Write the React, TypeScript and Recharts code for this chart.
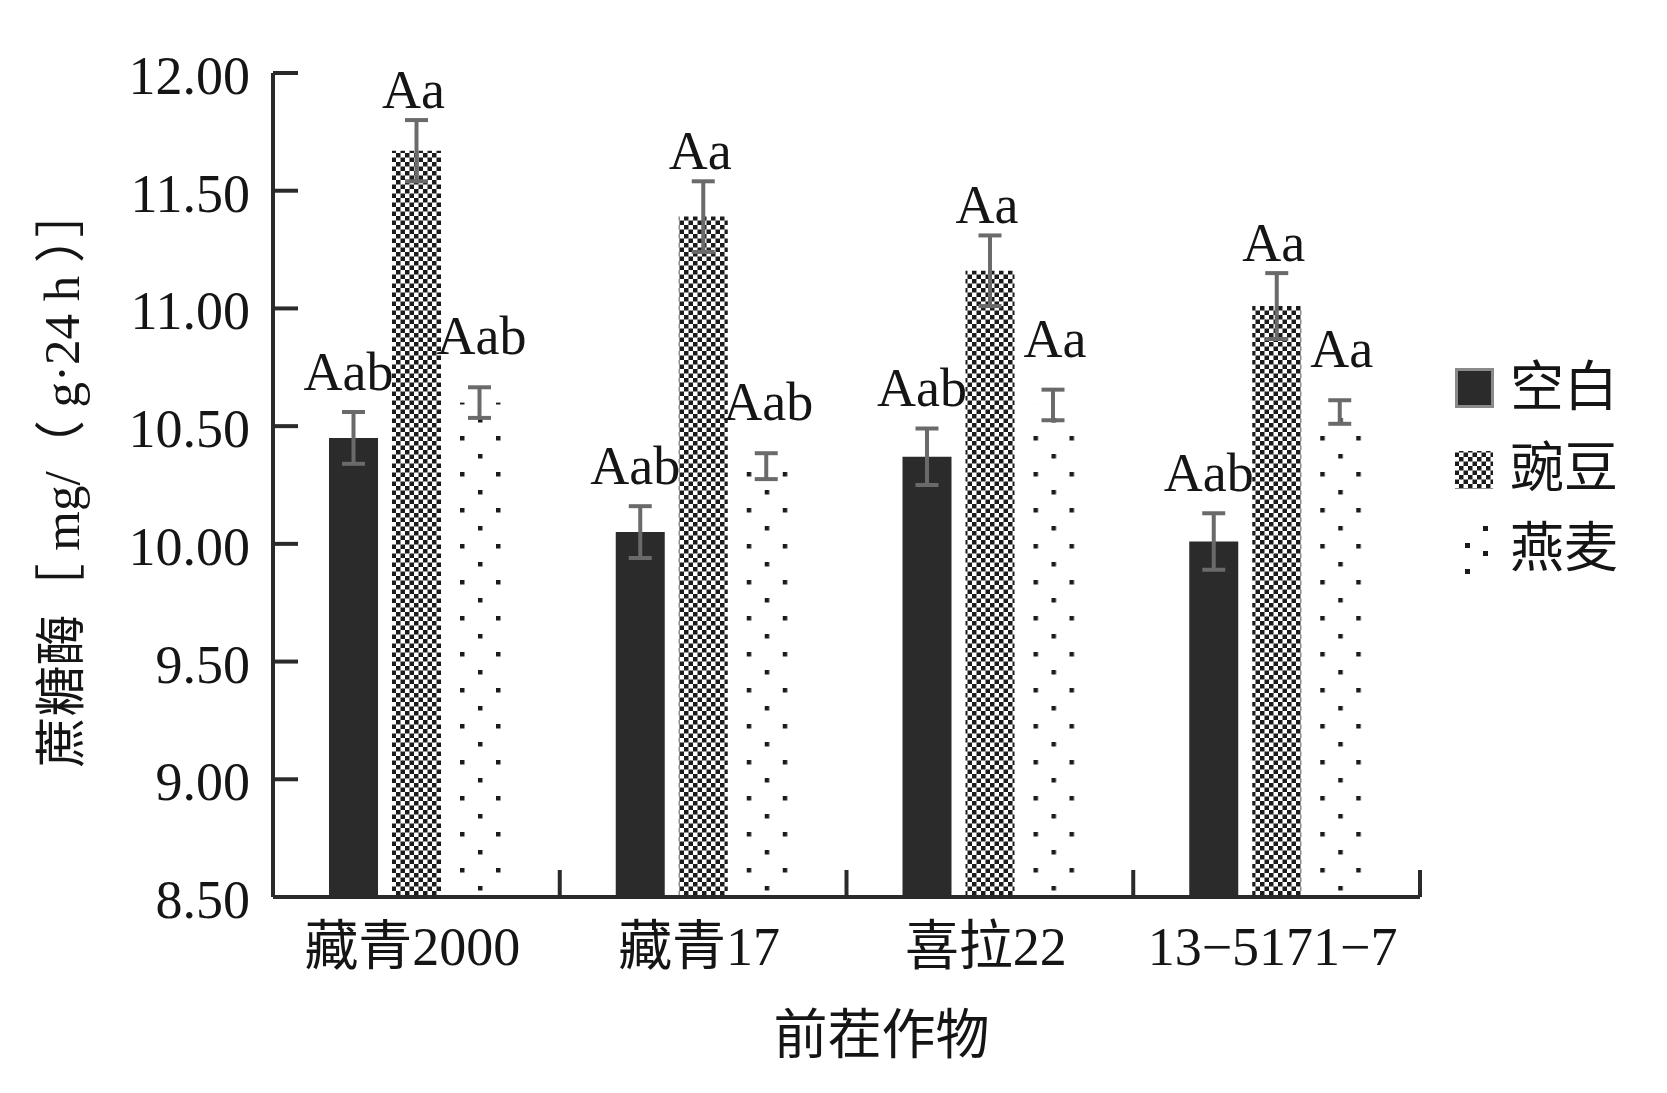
import React from 'react';
import { BarChart, Bar, XAxis, YAxis, ErrorBar, LabelList, Legend } from 'recharts';

// ---------- data ----------
const categories = ['藏青2000', '藏青17', '喜拉22', '13−5171−7'];
const seriesKeys = ['blank', 'pea', 'oat'];
const seriesNames = ['空白', '豌豆', '燕麦'];

const blankValues = [10.45, 10.05, 10.37, 10.01];
const blankErrors = [0.11, 0.11, 0.12, 0.12];
const blankLetters = ['Aab', 'Aab', 'Aab', 'Aab'];

const peaValues = [11.67, 11.39, 11.16, 11.01];
const peaErrors = [0.13, 0.15, 0.15, 0.14];
const peaLetters = ['Aa', 'Aa', 'Aa', 'Aa'];

const oatValues = [10.6, 10.33, 10.59, 10.56];
const oatErrors = [0.065, 0.055, 0.065, 0.05];
const oatLetters = ['Aab', 'Aab', 'Aa', 'Aa'];

const yTicks = [8.5, 9.0, 9.5, 10.0, 10.5, 11.0, 11.5, 12.0];
const Y_MIN = 8.5;
const Y_MAX = 12;

const yTitle = '蔗糖酶［ mg/（ g·24 h ）］';
const xTitle = '前茬作物';

const data = categories.map((name, i) => ({
  name,
  blank: blankValues[i],
  blankErr: blankErrors[i],
  blankSig: blankLetters[i],
  pea: peaValues[i],
  peaErr: peaErrors[i],
  peaSig: peaLetters[i],
  oat: oatValues[i],
  oatErr: oatErrors[i],
  oatSig: oatLetters[i],
}));

const valueArrays: Record<string, number[]> = { blank: blankValues, pea: peaValues, oat: oatValues };
const errorArrays: Record<string, number[]> = { blank: blankErrors, pea: peaErrors, oat: oatErrors };

// ---------- layout / style ----------
const W = 1667;
const H = 1093;
const PLOT_LEFT = 273;
const PLOT_TOP = 73;
const PLOT_RIGHT = 1420;
const PLOT_BOTTOM = 897;
const PLOT_W = PLOT_RIGHT - PLOT_LEFT;
const PLOT_H = PLOT_BOTTOM - PLOT_TOP;
const X_AXIS_H = 100;

const SERIF = "'Liberation Serif', 'Noto Sans CJK SC', serif";
const AXIS = '#2a2a2a';
const TEXT = '#151515';
const ERR = '#6a6a6a';
const DARK = '#2b2b2b';

const YTick = (props: any) => {
  const { x, y, payload } = props;
  return (
    <g>
      <line x1={x} x2={x + 25} y1={y} y2={y} stroke={AXIS} strokeWidth={4} />
      <text x={x - 23} y={y + 21} textAnchor="end" fontSize={54} fontFamily={SERIF} fill={TEXT}>
        {Number(payload.value).toFixed(2)}
      </text>
    </g>
  );
};

const XTick = (props: any) => {
  const { x, y, payload } = props;
  const band = PLOT_W / categories.length;
  return (
    <g>
      <line x1={x + band / 2} x2={x + band / 2} y1={y} y2={y - 27} stroke={AXIS} strokeWidth={4} />
      <text x={x - 4} y={y + 68} textAnchor="middle" fontSize={54} fontFamily={SERIF} fill={TEXT}>
        {payload.value}
      </text>
    </g>
  );
};

const YTitle = (props: any) => {
  const vb = props.viewBox || {};
  const cx = 62;
  const cy = (vb.y ?? PLOT_TOP) + (vb.height ?? PLOT_H) / 2 - 8;
  return (
    <text
      x={cx}
      y={cy}
      transform={`rotate(-90, ${cx}, ${cy})`}
      textAnchor="middle"
      dominantBaseline="central"
      fontSize={51}
      fontFamily={SERIF}
      fill={TEXT}
    >
      {yTitle}
    </text>
  );
};

const XTitle = (props: any) => {
  const vb = props.viewBox || {};
  const cx = (vb.x ?? PLOT_LEFT) + (vb.width ?? PLOT_W) / 2 + 35;
  const cy = PLOT_BOTTOM + 139;
  return (
    <text x={cx} y={cy} textAnchor="middle" dominantBaseline="central" fontSize={54} fontFamily={SERIF} fill={TEXT}>
      {xTitle}
    </text>
  );
};

const makeSigLabel = (key: string, gap: number, dx: number) => (props: any) => {
  const vb = props.viewBox || props;
  const { x, y, width, height } = vb;
  const index = props.index ?? 0;
  const v = valueArrays[key][index];
  const e = errorArrays[key][index];
  const pxPerUnit = v > Y_MIN && height > 0 ? height / (v - Y_MIN) : PLOT_H / (Y_MAX - Y_MIN);
  const errTop = y - e * pxPerUnit;
  return (
    <text
      x={x + width / 2 + dx}
      y={errTop - gap}
      textAnchor="middle"
      fontSize={54}
      fontFamily={SERIF}
      fill={TEXT}
    >
      {props.value}
    </text>
  );
};

const OatShape = (props: any) => {
  const { x, y, width, height, index } = props;
  if (!(height > 0)) return null;
  const id = `oat-dots-${index}`;
  const bottom = y + height;
  return (
    <g>
      <defs>
        <pattern id={id} patternUnits="userSpaceOnUse" x={x} y={bottom} width={36} height={36}>
          <rect x={5} y={7} width={4.5} height={4.5} fill="#1b1b1b" />
          <rect x={23} y={25} width={4.5} height={4.5} fill="#1b1b1b" />
        </pattern>
      </defs>
      <rect x={x} y={y} width={width} height={height} fill={`url(#${id})`} />
    </g>
  );
};

const LegendIcon = ({ dataKey }: { dataKey: string }) => {
  if (dataKey === 'blank') {
    return (
      <svg width={48} height={60}>
        <rect x={6.5} y={11.5} width={36} height={37} fill={DARK} stroke="#8a8a8a" strokeWidth={3} />
      </svg>
    );
  }
  if (dataKey === 'pea') {
    return (
      <svg width={48} height={60}>
        <rect x={5} y={12} width={38} height={38} fill="url(#peaChecker)" />
      </svg>
    );
  }
  return (
    <svg width={48} height={60}>
      <rect x={33} y={7} width={5} height={5} fill="#1b1b1b" />
      <rect x={15} y={24} width={5} height={5} fill="#1b1b1b" />
      <rect x={33} y={32} width={5} height={5} fill="#1b1b1b" />
      <rect x={15} y={50} width={5} height={5} fill="#1b1b1b" />
    </svg>
  );
};

const LegendContent = (props: any) => {
  const payload = [...(props.payload || [])].sort(
    (a: any, b: any) => seriesKeys.indexOf(a.dataKey) - seriesKeys.indexOf(b.dataKey)
  );
  return (
    <div style={{ position: 'relative', width: 230, height: 230 }}>
      {payload.map((entry: any, i: number) => (
        <div
          key={entry.dataKey}
          style={{ position: 'absolute', left: 0, top: i * 80.5, height: 60, display: 'flex', alignItems: 'center' }}
        >
          <LegendIcon dataKey={entry.dataKey} />
          <span style={{ fontFamily: SERIF, fontSize: 54, color: TEXT, marginLeft: 12, lineHeight: '60px' }}>
            {entry.value}
          </span>
        </div>
      ))}
    </div>
  );
};

export default function App() {
  return (
    <div style={{ position: 'absolute', left: 0, top: 0, width: W, height: H, background: '#fff' }}>
      <BarChart
        width={W}
        height={H}
        data={data}
        margin={{ top: PLOT_TOP, right: W - PLOT_RIGHT, left: 0, bottom: H - PLOT_BOTTOM - X_AXIS_H }}
        barSize={49}
        barGap={14}
      >
        <defs>
          <pattern id="peaChecker" patternUnits="userSpaceOnUse" width={9} height={9}>
            <rect width={9} height={9} fill="#ffffff" />
            <rect x={0} y={0} width={4.5} height={4.5} fill="#1b1b1b" />
            <rect x={4.5} y={4.5} width={4.5} height={4.5} fill="#1b1b1b" />
          </pattern>
        </defs>
        <XAxis
          dataKey="name"
          height={X_AXIS_H}
          interval={0}
          tickSize={0}
          tickMargin={0}
          tickLine={false}
          axisLine={{ stroke: AXIS, strokeWidth: 4 }}
          tick={<XTick />}
          label={<XTitle />}
        />
        <YAxis
          type="number"
          domain={[Y_MIN, Y_MAX]}
          ticks={yTicks}
          allowDataOverflow
          width={PLOT_LEFT}
          tickSize={0}
          tickMargin={0}
          tickLine={false}
          axisLine={{ stroke: AXIS, strokeWidth: 4 }}
          tick={<YTick />}
          label={<YTitle />}
        />
        <Legend
          layout="horizontal"
          align="center"
          verticalAlign="middle"
          wrapperStyle={{ left: 1450, top: 358, width: 230 }}
          content={<LegendContent />}
        />
        <Bar dataKey="blank" name={seriesNames[0]} fill={DARK} isAnimationActive={false}>
          <ErrorBar dataKey="blankErr" width={11.5} strokeWidth={4} stroke={ERR} isAnimationActive={false} />
          <LabelList dataKey="blankSig" content={makeSigLabel('blank', 22, -5)} />
        </Bar>
        <Bar dataKey="pea" name={seriesNames[1]} fill="url(#peaChecker)" isAnimationActive={false}>
          <ErrorBar dataKey="peaErr" width={11.5} strokeWidth={4} stroke={ERR} isAnimationActive={false} />
          <LabelList dataKey="peaSig" content={makeSigLabel('pea', 12, -3)} />
        </Bar>
        <Bar dataKey="oat" name={seriesNames[2]} fill="#ffffff" shape={<OatShape />} isAnimationActive={false}>
          <ErrorBar dataKey="oatErr" width={11.5} strokeWidth={4} stroke={ERR} isAnimationActive={false} />
          <LabelList dataKey="oatSig" content={makeSigLabel('oat', 33, 2)} />
        </Bar>
      </BarChart>
    </div>
  );
}
